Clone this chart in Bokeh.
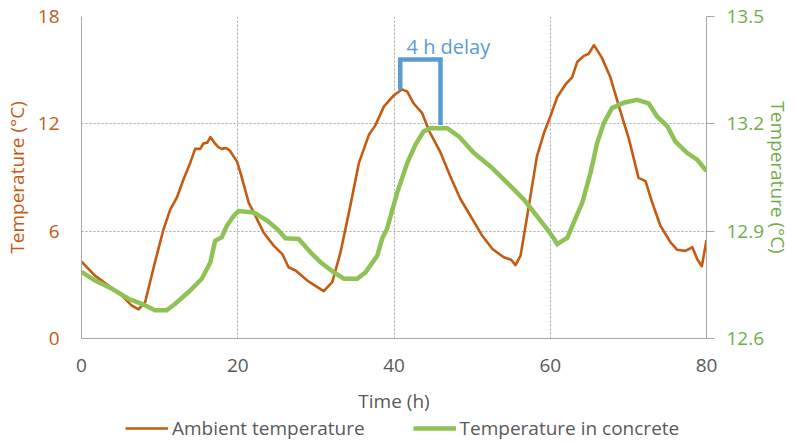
from bokeh.plotting import figure
from bokeh.layouts import column
from bokeh.models import (Range1d, LinearAxis, FixedTicker, PrintfTickFormatter,
                          Legend, LegendItem)
from bokeh.core.properties import value
from bokeh.embed import file_html
from bokeh.resources import INLINE

# ---------------- data ----------------
ambient_h = [0, 1.75, 3.46, 5.16, 6.4, 7.3, 8.15, 9.4, 10.5, 11.35, 12.2, 13.06, 13.9,
             14.55, 15.2, 15.6, 16.1, 16.5, 17.0, 17.5, 17.96, 18.5, 19.0, 19.9, 20.35,
             21.4, 22.05, 23.3, 24.6, 25.7, 26.5, 27.4, 28.9, 30.2, 31.0, 32.1, 33.15,
             34.4, 35.5, 36.8, 37.6, 38.7, 40.0, 41.05, 41.7, 42.5, 43.6, 44.5, 45.95,
             47.2, 48.5, 49.8, 51.3, 52.6, 54.05, 55.0, 55.55, 56.2, 57.26, 58.3, 59.2,
             60.0, 60.9, 61.95, 62.8, 63.45, 64.3, 64.9, 65.6, 66.6, 67.7, 68.8, 70.1,
             71.3, 72.2, 73.05, 74.1, 75.4, 76.25, 77.3, 78.2, 78.8, 79.4, 80.0]
ambient_t = [4.3, 3.5, 2.96, 2.4, 1.85, 1.63, 2.04, 4.26, 6.1, 7.2, 7.87, 8.9, 9.8,
             10.6, 10.6, 10.9, 10.95, 11.26, 10.95, 10.7, 10.6, 10.65, 10.5, 9.9, 9.26,
             7.6, 7.04, 5.93, 5.19, 4.72, 3.98, 3.8, 3.24, 2.87, 2.65, 3.15, 4.81,
             7.4, 9.8, 11.4, 11.9, 12.96, 13.6, 13.93, 13.8, 13.15, 12.6, 11.6, 10.4,
             9.07, 7.8, 6.85, 5.74, 5.0, 4.54, 4.4, 4.1, 4.63, 7.4, 10.2, 11.5,
             12.4, 13.5, 14.2, 14.6, 15.46, 15.8, 15.9, 16.4, 15.7, 14.6, 12.96, 11.1,
             8.98, 8.8, 7.6, 6.3, 5.37, 4.96, 4.9, 5.1, 4.44, 4.04, 5.5]

concrete_h = [0, 1.75, 3.9, 6.0, 7.7, 9.4, 10.9, 12.0, 13.7, 15.4, 16.5, 17.1, 17.96,
              18.6, 19.45, 20.1, 22.05, 23.8, 25.05, 26.1, 27.8, 29.3, 30.6, 32.3,
              33.6, 35.3, 36.35, 37.85, 38.5, 39.1, 40.4, 41.7, 42.75, 43.8, 44.7,
              46.8, 48.3, 50.2, 52.35, 54.5, 56.6, 58.3, 59.6, 60.5, 60.9, 62.2, 63.0,
              64.1, 65.15, 66.0, 66.85, 67.9, 69.4, 71.1, 72.6, 73.7, 75.0, 76.0,
              77.5, 78.8, 80.0]
concrete_t = [12.786, 12.762, 12.739, 12.711, 12.697, 12.679, 12.679, 12.697, 12.73,
              12.767, 12.813, 12.873, 12.883, 12.915, 12.942, 12.956, 12.952, 12.929,
              12.906, 12.880, 12.878, 12.841, 12.813, 12.785, 12.767, 12.767, 12.785,
              12.831, 12.880, 12.906, 13.007, 13.091, 13.142, 13.179, 13.188, 13.188,
              13.165, 13.119, 13.081, 13.035, 12.989, 12.942, 12.906, 12.878, 12.864,
              12.882, 12.924, 12.98, 13.063, 13.146, 13.202, 13.244, 13.259, 13.267,
              13.257, 13.22, 13.193, 13.151, 13.119, 13.1, 13.068]

x_ticks = [0, 20, 40, 60, 80]
left_ticks = [0, 6, 12, 18]
right_ticks = [12.6, 12.9, 13.2, 13.5]

series_names = ["Ambient temperature", "Temperature in concrete"]

delay_label = "4 h delay"
delay_x = [40.8, 40.8, 45.95, 45.95]
delay_y = [13.9, 15.6, 15.6, 11.94]
delay_text_pos = (41.6, 16.35)

# ---------------- styling ----------------
FONT = "Open Sans"
FS = "19px"
ORANGE = "#C55A11"
GREEN_LINE = "#8EC255"
GREEN_TXT = "#70AD47"
BLUE = "#5B9BD5"
GRAY_TXT = "#595959"
AXIS_GRAY = "#A6A6A6"

W = 795
MAIN_H = 416
LEG_H = 27

p = figure(width=W, height=MAIN_H, output_backend="svg", toolbar_location=None,
           x_range=Range1d(0, 80), y_range=Range1d(0, 18),
           min_border_left=81, min_border_right=89, min_border_top=16,
           min_border_bottom=MAIN_H - 340)
p.outline_line_color = None
p.background_fill_color = "white"
p.border_fill_color = "white"

p.extra_y_ranges = {"conc": Range1d(12.6, 13.5)}


def style_axis(ax, color, label_color):
    ax.major_tick_in = 0
    ax.minor_tick_out = 0
    ax.minor_tick_in = 0
    ax.axis_line_color = AXIS_GRAY
    ax.major_tick_line_color = AXIS_GRAY
    ax.major_label_text_color = color
    ax.axis_label_text_color = label_color
    ax.major_label_text_font = FONT
    ax.axis_label_text_font = FONT
    ax.major_label_text_font_size = FS
    ax.axis_label_text_font_size = FS
    ax.axis_label_text_font_style = "normal"


# x axis
xa = p.xaxis[0]
xa.ticker = FixedTicker(ticks=x_ticks)
xa.axis_label = "Time (h)"
style_axis(xa, GRAY_TXT, GRAY_TXT)
xa.major_tick_out = 0
xa.major_label_standoff = 20
xa.axis_label_standoff = 13

# left axis
ya = p.yaxis[0]
ya.ticker = FixedTicker(ticks=left_ticks)
ya.axis_label = "Temperature (°C)"
style_axis(ya, ORANGE, ORANGE)
ya.major_tick_out = 0
ya.major_label_standoff = 22
ya.axis_label_standoff = 5

# right axis
ra = LinearAxis(y_range_name="conc", ticker=FixedTicker(ticks=right_ticks),
                formatter=PrintfTickFormatter(format="%.1f"))
ra.axis_label = "Temperature (°C)"
style_axis(ra, GREEN_TXT, GREEN_TXT)
ra.major_tick_out = 8
ra.major_label_standoff = 12
ra.axis_label_standoff = -2
p.add_layout(ra, "right")

# grids
p.xgrid.ticker = FixedTicker(ticks=x_ticks)
p.ygrid.ticker = FixedTicker(ticks=left_ticks)
for g in (p.xgrid[0], p.ygrid[0]):
    g.grid_line_color = AXIS_GRAY
    g.grid_line_dash = "2 2"
    g.grid_line_width = 1

# lines
AMB_STYLE = dict(line_color=ORANGE, line_width=2.6, line_join="round")
CON_STYLE = dict(line_color=GREEN_LINE, line_width=4.5, line_join="miter")
p.line(ambient_h, ambient_t, **AMB_STYLE)
p.line(concrete_h, concrete_t, y_range_name="conc", **CON_STYLE)

# annotation
p.line(delay_x, delay_y, line_color=BLUE, line_width=4.5, line_join="miter")
p.text(x=[delay_text_pos[0]], y=[delay_text_pos[1]], text=[delay_label],
       text_color=BLUE, text_font=value(FONT), text_font_size="20px",
       text_baseline="alphabetic", text_align="left")

# ---------------- legend strip below the chart ----------------
# same series drawn in a strip whose ranges keep them out of view; only the legend shows
lg = figure(width=W, height=LEG_H, output_backend="svg", toolbar_location=None,
            x_range=Range1d(1000, 1001), y_range=Range1d(1000, 1001),
            x_axis_location=None, y_axis_location=None,
            min_border_left=0, min_border_right=0, min_border_top=0, min_border_bottom=0)
lg.grid.visible = False
lg.outline_line_color = None
lg.border_fill_color = "white"
lg.background_fill_color = "white"
r1 = lg.line(ambient_h, ambient_t, **AMB_STYLE)
r2 = lg.line(concrete_h, concrete_t, **CON_STYLE)
legend = Legend(items=[LegendItem(label=series_names[0], renderers=[r1]),
                       LegendItem(label=series_names[1], renderers=[r2])],
                orientation="horizontal", location=(44, 2))
legend.label_text_font = FONT
legend.label_text_font_size = FS
legend.label_text_color = GRAY_TXT
legend.glyph_width = 43
legend.glyph_height = 20
legend.label_standoff = 4
legend.spacing = 48
legend.padding = 0
legend.margin = 0
legend.border_line_color = None
legend.background_fill_alpha = 0
lg.add_layout(legend, "center")

layout = column(p, lg, spacing=0)
open("out.html", "w").write(file_html(layout, INLINE))
